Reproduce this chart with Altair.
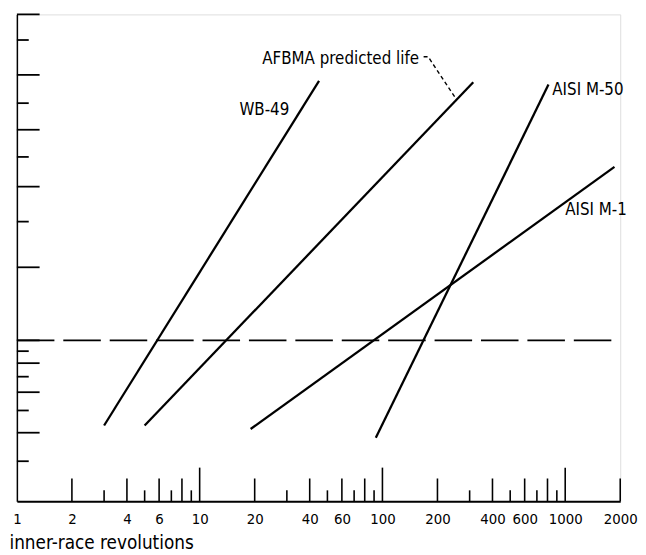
import altair as alt
import numpy as np
import pandas as pd

# ---- data ----
series_names = ["WB-49", "AFBMA predicted life", "AISI M-50", "AISI M-1"]
rev_start = [3.0, 5.0, 92.0, 19.0]      # inner-race revolutions (millions)
pct_start = [4.3, 4.3, 3.8, 4.15]       # percent of bearings failed
rev_end = [45.0, 314.0, 810.0, 1860.0]
pct_end = [78.0, 77.5, 76.7, 46.5]

label_text = ["WB-49", "AFBMA predicted life", "AISI M-50", "AISI M-1"]
label_rev = [16.5, 22.0, 850.0, 1000.0]
label_pct = [67.3, 84.8, 74.6, 33.1]

leader_rev = [168.0, 178.0, 254.0]
leader_pct = [85.6, 85.6, 71.4]

ref_pct = 10.0
ref_rev = [1.0, 1850.0]

x_labels = [1, 2, 4, 6, 10, 20, 40, 60, 100, 200, 400, 600, 1000, 2000]
x_major = [10, 100, 1000]
x_mid = [2, 4, 6, 8, 20, 40, 60, 80, 200, 400, 600, 800, 2000]
x_minor = [3, 5, 7, 9, 30, 50, 70, 90, 300, 500, 700, 900]

y_long = [95, 80, 60, 40, 20, 10, 8, 6, 4]
y_short = [90, 70, 50, 30, 9, 7, 5, 3]
y_min_pct, y_max_pct = 2.0, 95.0


def weib(p):
    p = np.asarray(p, dtype=float) / 100.0
    return np.log(-np.log(1.0 - p))


FONT = "DejaVu Sans Condensed, Liberation Sans Narrow, DejaVu Sans"
W, H = 611, 493

xs = alt.Scale(type="log", domain=[1, 2000], nice=False)
ys = alt.Scale(type="linear", domain=[float(weib(y_min_pct)), float(weib(y_max_pct))],
               nice=False, zero=False)

xaxis = alt.Axis(values=x_labels, format="d", ticks=False, grid=False,
                 labelFont=FONT, labelFontSize=15, labelColor="black", labelPadding=11,
                 labelFlush=False, labelOverlap=False, labelBound=False,
                 title="inner-race revolutions", titleFont=FONT, titleFontSize=19,
                 titleFontWeight="normal", titleColor="black", titleAnchor="start",
                 titleAlign="left", titleX=-8, titleY=48, titleBaseline="alphabetic",
                 domainColor="black", domainWidth=2)
yaxis = alt.Axis(labels=False, ticks=False, grid=False, title=None,
                 domainColor="black", domainWidth=1.5)


def X(f):
    return alt.X(f, type="quantitative", scale=xs, axis=xaxis)


def Y(f):
    return alt.Y(f, type="quantitative", scale=ys, axis=yaxis)


# lines
rows = []
for n, r0, p0, r1, p1 in zip(series_names, rev_start, pct_start, rev_end, pct_end):
    rows.append({"series": n, "rev": r0, "w": float(weib(p0)), "o": 0})
    rows.append({"series": n, "rev": r1, "w": float(weib(p1)), "o": 1})
lines_df = pd.DataFrame(rows)

lines = alt.Chart(lines_df).mark_line(color="black", strokeWidth=2.3).encode(
    x=X("rev"), y=Y("w"), detail="series:N", order="o:Q")

ref_df = pd.DataFrame({"rev": [ref_rev[0]], "rev2": [ref_rev[1]], "w": [float(weib(ref_pct))]})
ref_line = alt.Chart(ref_df).mark_rule(color="black", strokeWidth=2, strokeDash=[38, 9]).encode(
    x=X("rev"), x2="rev2", y=Y("w"))

lab_df = pd.DataFrame({"t": label_text, "rev": label_rev, "w": weib(label_pct)})
labels = alt.Chart(lab_df).mark_text(align="left", baseline="middle", font=FONT,
                                     fontSize=17, color="black").encode(
    x=X("rev"), y=Y("w"), text="t:N")

lead_df = pd.DataFrame({"rev": leader_rev, "w": weib(leader_pct), "o": [0, 1, 2]})
leader = alt.Chart(lead_df).mark_line(color="black", strokeWidth=1.4, strokeDash=[4, 3]).encode(
    x=X("rev"), y=Y("w"), order="o:Q")


def yticks(vals, length):
    df = pd.DataFrame({"w": weib(vals)})
    return alt.Chart(df).mark_rule(color="black", strokeWidth=1.8).encode(
        y=Y("w"), x=alt.value(0), x2=alt.value(length))


def xticks(vals, length):
    df = pd.DataFrame({"rev": vals})
    return alt.Chart(df).mark_rule(color="black", strokeWidth=1.6).encode(
        x=X("rev"), y=alt.value(H), y2=alt.value(H - length))


chart = alt.layer(
    yticks(y_long, 23), yticks(y_short, 12),
    xticks(x_major, 34), xticks(x_mid, 23), xticks(x_minor, 11),
    ref_line, lines, leader, labels,
).properties(
    width=W, height=H,
    autosize=alt.AutoSizeParams(type="none"),
    padding={"left": 9, "top": 3, "right": 18, "bottom": 50},
).configure_view(stroke=None).configure(background="white")

chart.save("out.html", embed_options={"renderer": "svg", "actions": False})
